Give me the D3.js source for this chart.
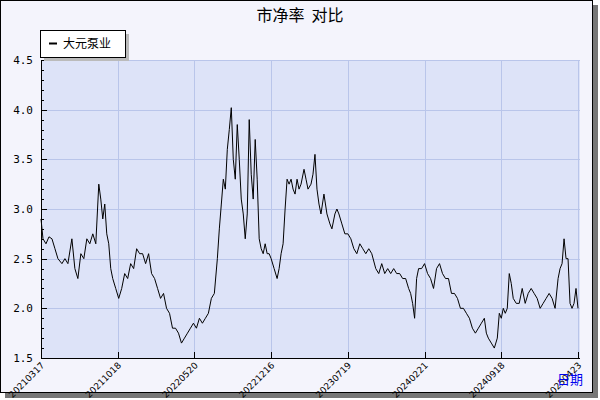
<!DOCTYPE html>
<html><head><meta charset="utf-8">
<script src="https://cdn.jsdelivr.net/npm/d3@7"></script>
<style>body{margin:0;background:#fff}</style>
</head><body><svg id="c" width="600" height="400"></svg>
<script>
// day offsets (trading-day index) and P/B values
const days = [0,2,5,8,11,14,17,21,24,27,31,34,37,40,43,46,49,52,55,58,60,62,64,66,68,70,72,75,78,81,84,87,90,93,96,99,102,105,108,111,114,117,120,123,126,129,132,135,138,141,144,147,150,153,156,159,162,165,168,171,174,177,179,181,183,185,187,189,191,193,195,197,199,201,203,205,207,209,211,213,215,217,219,221,223,225,227,229,231,234,237,239,241,243,245,247,249,251,253,255,257,259,261,264,266,268,271,273,275,277,279,281,284,287,290,292,295,297,299,302,305,308,311,314,317,320,323,326,329,332,336,339,342,345,348,351,354,357,360,363,366,369,371,373,375,377,379,382,385,388,391,394,397,400,403,406,409,412,415,418,421,424,427,430,433,436,439,442,445,447,449,452,455,458,460,462,464,466,468,470,472,474,477,480,483,486,489,492,495,498,501,504,507,510,513,516,519,521,523,525,527,529,531,533,535,537,539];
const pb = [2.9,2.7,2.65,2.72,2.7,2.6,2.5,2.45,2.5,2.45,2.7,2.4,2.3,2.55,2.5,2.7,2.65,2.75,2.65,3.25,3.1,2.9,3.05,2.75,2.65,2.4,2.3,2.2,2.1,2.2,2.35,2.3,2.45,2.4,2.6,2.55,2.55,2.45,2.55,2.35,2.3,2.2,2.1,2.15,2.0,1.95,1.8,1.8,1.75,1.65,1.7,1.75,1.8,1.85,1.8,1.9,1.85,1.9,1.95,2.1,2.15,2.5,2.8,3.05,3.3,3.2,3.6,3.8,4.02,3.5,3.3,3.85,3.5,3.1,2.95,2.7,2.95,3.9,3.35,3.1,3.7,3.3,2.7,2.6,2.55,2.65,2.55,2.55,2.5,2.4,2.3,2.4,2.55,2.65,3.0,3.3,3.25,3.3,3.2,3.15,3.3,3.2,3.25,3.4,3.3,3.2,3.25,3.35,3.55,3.2,3.05,2.95,3.15,2.95,2.85,2.8,2.95,3.0,2.95,2.85,2.75,2.75,2.7,2.6,2.55,2.65,2.6,2.55,2.6,2.55,2.4,2.35,2.45,2.35,2.4,2.35,2.4,2.35,2.35,2.3,2.3,2.2,2.15,2.05,1.9,2.3,2.4,2.4,2.45,2.35,2.3,2.2,2.4,2.45,2.35,2.3,2.3,2.15,2.15,2.1,2.0,2.0,1.95,1.9,1.8,1.75,1.8,1.85,1.9,1.75,1.7,1.65,1.6,1.7,1.95,1.9,2.0,1.95,2.0,2.35,2.25,2.1,2.05,2.05,2.2,2.05,2.15,2.2,2.15,2.1,2.0,2.05,2.1,2.15,2.1,2.0,2.3,2.4,2.45,2.7,2.5,2.5,2.05,2.0,2.05,2.2,2.0];
const tickDays = [0,77,154,231,308,385,462,539];
const tickLabels = ['20210317','20211018','20220520','20221216','20230719','20240221','20240918','20250423'];
const yTicks = [1.5,2.0,2.5,3.0,3.5,4.0,4.5];

const svg = d3.select('#c');
const m = {l:41, r:580, t:60, b:358};
const x = d3.scaleLinear().domain([0,541]).range([m.l,m.r]);
const y = d3.scaleLinear().domain([1.5,4.5]).range([m.b,m.t]);

// frame with shadow
svg.append('rect').attr('x',5).attr('y',5).attr('width',593).attr('height',393).attr('fill','#777');
svg.append('rect').attr('x',0.5).attr('y',0.5).attr('width',592).attr('height',392)
  .attr('fill','#f4f4fc').attr('stroke','#000');

svg.append('rect').attr('x',m.l).attr('y',m.t).attr('width',m.r-m.l).attr('height',m.b-m.t).attr('fill','#dde3f8');

const grid = svg.append('g').attr('stroke','#b9c5ea').attr('stroke-width',1);
yTicks.forEach(v => grid.append('line').attr('x1',m.l).attr('x2',m.r).attr('y1',Math.round(y(v))+0.5).attr('y2',Math.round(y(v))+0.5));
tickDays.forEach(d => grid.append('line').attr('x1',Math.round(x(d))+0.5).attr('x2',Math.round(x(d))+0.5).attr('y1',m.t).attr('y2',m.b));

// left axis with minor ticks
const ax = svg.append('g').attr('stroke','#000');
ax.append('line').attr('x1',m.l+0.5).attr('x2',m.l+0.5).attr('y1',m.t).attr('y2',m.b);
ax.append('line').attr('x1',m.l).attr('x2',m.r).attr('y1',m.b+0.5).attr('y2',m.b+0.5);
d3.range(15,46).forEach(i => {
  const yy = Math.round(y(i/10))+0.5;
  ax.append('line').attr('x1',m.l).attr('x2',m.l+(i%5===0?6:3)).attr('y1',yy).attr('y2',yy);
});
tickDays.forEach(d => ax.append('line').attr('x1',Math.round(x(d))+0.5).attr('x2',Math.round(x(d))+0.5).attr('y1',m.b).attr('y2',m.b-6));

svg.append('g').selectAll('text').data(yTicks).join('text')
  .attr('x',m.l-8).attr('y',d=>y(d)+4).attr('text-anchor','end')
  .attr('font-family','DejaVu Sans Mono').attr('font-size',11).text(d=>d.toFixed(1));

svg.append('g').selectAll('text').data(tickDays).join('text')
  .attr('transform',d=>`translate(${x(d)+4},${m.b+8}) rotate(-45)`).attr('text-anchor','end')
  .attr('font-family','DejaVu Sans').attr('font-size',9).text((d,i)=>tickLabels[i]);

svg.append('path').datum(days.map((d,i)=>[d,pb[i]]))
  .attr('fill','none').attr('stroke','#000').attr('stroke-width',1)
  .attr('d',d3.line().x(d=>x(d[0])).y(d=>y(d[1])));

svg.append('text').attr('x',300).attr('y',21).attr('text-anchor','middle').style('white-space','pre')
  .attr('font-family','Noto Sans CJK SC').attr('font-size',16).text('市净率  对比');
svg.append('text').attr('x',557).attr('y',384)
  .attr('font-family','Noto Sans CJK SC').attr('font-size',13).attr('fill','#0000ee').text('日期');

// legend
svg.append('rect').attr('x',44).attr('y',34).attr('width',85).attr('height',27).attr('fill','#bbb');
svg.append('rect').attr('x',40.5).attr('y',30.5).attr('width',85).attr('height',27).attr('fill','#fff').attr('stroke','#000');
svg.append('line').attr('x1',49).attr('x2',57).attr('y1',43.5).attr('y2',43.5).attr('stroke','#000').attr('stroke-width',2);
svg.append('text').attr('x',63).attr('y',48).attr('font-family','Noto Sans CJK SC').attr('font-size',12).text('大元泵业');
</script></body></html>
